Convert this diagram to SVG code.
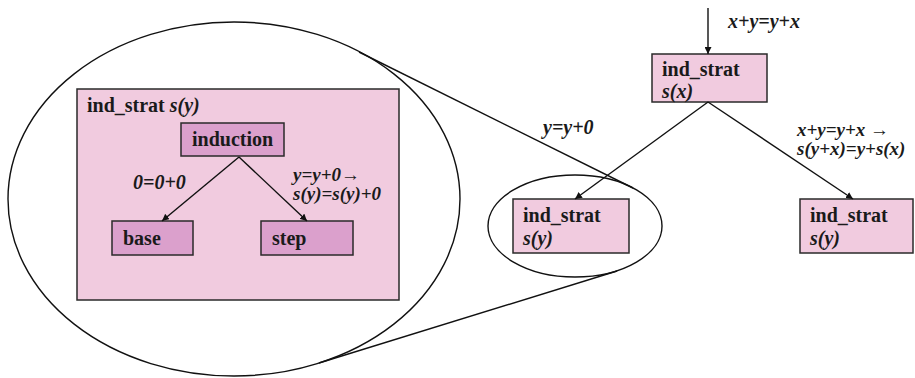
<svg xmlns="http://www.w3.org/2000/svg" width="915" height="378" viewBox="0 0 915 378">
<defs>
<marker id="ah" viewBox="0 0 10 10" refX="10" refY="5" markerWidth="7" markerHeight="7" orient="auto" markerUnits="userSpaceOnUse">
<path d="M0,0 L10,5 L0,10 z" fill="#111"/>
</marker>
<style>
.light{fill:#F1CBDF;stroke:#2a2a2a;stroke-width:1.5}
.dark{fill:#DBA0CC;stroke:#2a2a2a;stroke-width:1.5}
.edge{stroke:#111;stroke-width:1.4;fill:none}
.oval{stroke:#111;stroke-width:1.4;fill:none}
</style>
</defs>
<rect width="915" height="378" fill="#fff"/>
<g font-family="Liberation Serif" font-size="20" font-weight="bold" fill="#1a1a1a">
<g id="zoom-ellipse">
<ellipse class="oval" cx="234" cy="199" rx="226" ry="177"/>
</g>
<g id="inner-strategy">
<rect class="light" x="77" y="89" width="322" height="211"/>
<text x="87" y="112">ind_strat <tspan font-style="italic">s(y)</tspan></text>
</g>
<g id="induction">
<rect class="dark" x="181" y="123" width="103" height="33"/>
<text x="192" y="146">induction</text>
</g>
<g id="base">
<rect class="dark" x="112" y="221" width="81" height="34"/>
<text x="123" y="245">base</text>
</g>
<g id="step">
<rect class="dark" x="261" y="221" width="92" height="34"/>
<text x="272" y="245">step</text>
</g>
<g id="small-ellipse">
<ellipse class="oval" cx="575" cy="226" rx="87" ry="51"/>
</g>
<g id="top-node">
<rect class="light" x="652" y="54" width="115" height="48"/>
<text x="662" y="76">ind_strat</text>
<text font-style="italic" x="662" y="98">s(x)</text>
</g>
<g id="left-node">
<rect class="light" x="513" y="199" width="116" height="54"/>
<text x="523" y="222">ind_strat</text>
<text font-style="italic" x="523" y="245">s(y)</text>
</g>
<g id="right-node">
<rect class="light" x="800" y="199" width="113" height="54"/>
<text x="810" y="222">ind_strat</text>
<text font-style="italic" x="810" y="245">s(y)</text>
</g>
<g id="connectors">
<line class="edge" x1="359" y1="52" x2="633" y2="188"/>
<line class="edge" x1="319" y1="363" x2="617" y2="271"/>
<line class="edge" x1="708" y1="8" x2="708" y2="54" marker-end="url(#ah)"/>
<line class="edge" x1="708" y1="102" x2="575" y2="199" marker-end="url(#ah)"/>
<line class="edge" x1="708" y1="102" x2="853" y2="199" marker-end="url(#ah)"/>
<line class="edge" x1="239" y1="157" x2="162" y2="221" marker-end="url(#ah)"/>
<line class="edge" x1="239" y1="157" x2="307" y2="221" marker-end="url(#ah)"/>
</g>
<g id="labels" font-style="italic">
<text x="728" y="28">x+y=y+x</text>
<text x="543" y="134">y=y+0</text>
<text x="797" y="136" font-size="19">x+y=y+x →</text>
<text x="797" y="155" font-size="19">s(y+x)=y+s(x)</text>
<text x="133" y="189">0=0+0</text>
<text x="293" y="181" font-size="19">y=y+0→</text>
<text x="293" y="200" font-size="19">s(y)=s(y)+0</text>
</g>
</g>
</svg>
